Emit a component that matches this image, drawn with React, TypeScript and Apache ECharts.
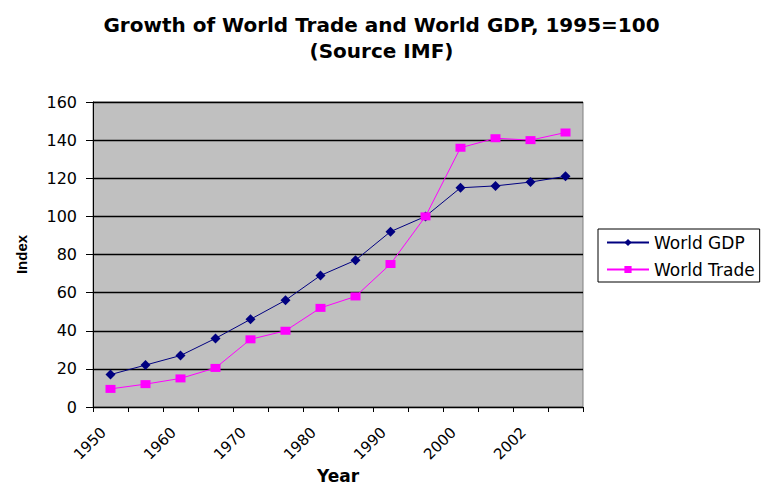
import React, { useEffect, useRef } from "react";
import * as echarts from "echarts";

const years = ["1950", "1955", "1960", "1965", "1970", "1975", "1980", "1985", "1990", "1995", "2000", "2001", "2002", "2003"];
const worldGDP = [17, 22, 27, 36, 46, 56, 69, 77, 92, 100, 115, 116, 118, 121];
const worldTrade = [9.5, 12, 15, 20.5, 35.5, 40, 52, 58, 75, 100, 136, 141, 140, 144];
const yTicks = { min: 0, max: 160, interval: 20 };

const WIDE = "'DejaVu Sans', Verdana, sans-serif";
const ARIAL = "'Liberation Sans', Arial, sans-serif";

export default function App() {
  const ref = useRef<HTMLDivElement>(null);
  useEffect(() => {
    if (!ref.current) return;
    const chart = echarts.init(ref.current, undefined, { renderer: "svg" });
    chart.setOption({
      animation: false,
      backgroundColor: "#ffffff",
      textStyle: { fontFamily: WIDE },
      title: {
        text: "Growth of World Trade and World GDP, 1995=100\n(Source IMF)",
        left: "center",
        top: 7,
        textStyle: { fontFamily: WIDE, fontSize: 20, fontWeight: "bold", color: "#000", lineHeight: 26 },
      },
      grid: {
        left: 93,
        right: 180,
        top: 102,
        bottom: 80,
        outerBoundsMode: "none",
        containLabel: false,
        show: true,
        backgroundColor: "#c0c0c0",
        borderColor: "#808080",
        borderWidth: 1,
      },
      legend: {
        orient: "vertical",
        left: 598,
        top: 229,
        padding: [5, 5, 4, 8],
        borderColor: "#000",
        borderWidth: 1,
        itemWidth: 42,
        itemHeight: 9,
        itemGap: 10,
        textStyle: { fontFamily: WIDE, fontSize: 17, color: "#000" },
        data: ["World GDP", "World Trade"],
      },
      xAxis: {
        type: "category",
        data: years,
        boundaryGap: true,
        name: "Year",
        nameLocation: "middle",
        nameGap: 60,
        nameMoveOverlap: false,
        nameTextStyle: { fontFamily: WIDE, fontSize: 17, fontWeight: "bold", color: "#000" },
        axisLine: { lineStyle: { color: "#000", width: 1 } },
        axisTick: { show: true, interval: 0, length: 5, lineStyle: { color: "#000" } },
        axisLabel: {
          interval: 1,
          rotate: 45,
          margin: 16,
          padding: [0, 10, 0, 0],
          fontFamily: WIDE,
          fontSize: 15,
          color: "#000",
        },
        splitLine: { show: false },
      },
      yAxis: {
        type: "value",
        min: yTicks.min,
        max: yTicks.max,
        interval: yTicks.interval,
        name: "Index",
        nameLocation: "middle",
        nameGap: 64,
        nameMoveOverlap: false,
        nameRotate: 90,
        nameTextStyle: { fontFamily: ARIAL, fontSize: 15, fontWeight: "bold", color: "#000" },
        axisLine: { show: true, lineStyle: { color: "#000", width: 1 } },
        axisTick: { show: true, length: 7, lineStyle: { color: "#000" } },
        axisLabel: { fontFamily: WIDE, fontSize: 16, color: "#000", margin: 16 },
        splitLine: { show: true, lineStyle: { color: "#000", width: 1.3 } },
      },
      series: [
        {
          name: "World GDP",
          type: "line",
          data: worldGDP,
          symbol: "diamond",
          symbolSize: 10,
          itemStyle: { color: "#000080" },
          lineStyle: { color: "#000080", width: 1 },
        },
        {
          name: "World Trade",
          type: "line",
          data: worldTrade,
          symbol: "rect",
          symbolSize: [10, 8],
          itemStyle: { color: "#ff00ff" },
          lineStyle: { color: "#ff00ff", width: 1 },
        },
      ],
    });
    return () => chart.dispose();
  }, []);
  return <div ref={ref} style={{ position: "fixed", left: 0, top: 0, width: 763, height: 487 }} />;
}
